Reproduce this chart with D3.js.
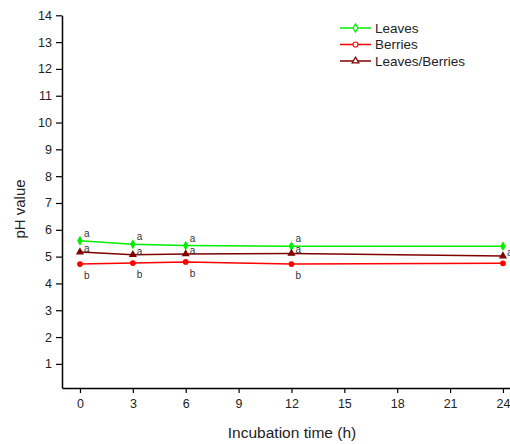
<!DOCTYPE html>
<html>
<head>
<script src="https://d3js.org/d3.v7.min.js"></script>
<style>
  body { margin: 0; background: #fff; }
  text { font-family: "Liberation Sans", Arial, sans-serif; }
</style>
</head>
<body>
<script>
// data
const hours = [0, 3, 6, 12, 24];
const leaves = [5.59, 5.46, 5.41, 5.39, 5.39];
const berries = [4.72, 4.76, 4.80, 4.72, 4.75];
const mixed = [5.17, 5.07, 5.10, 5.12, 5.02];
const leavesLetters = ["a", "a", "a", "a", null];
const berriesLetters = ["b", "b", "b", "b", null];
const mixedLetters = ["a", "a", "a", "a", "a"];
const xTicks = [0, 3, 6, 9, 12, 15, 18, 21, 24];
const yTicks = [1, 2, 3, 4, 5, 6, 7, 8, 9, 10, 11, 12, 13, 14];

const width = 510, height = 444;
const svg = d3.select("body").append("svg")
    .attr("width", width).attr("height", height);

const x = d3.scaleLinear().domain([-1.02, 24.4]).range([62, 510]);
const y = d3.scaleLinear().domain([0.1, 14]).range([388, 15.3]);

// axes
const xAxis = svg.append("g")
    .attr("transform", `translate(0,${y(0.1)})`)
    .call(d3.axisBottom(x).tickValues(xTicks).tickSize(5).tickPadding(6).tickSizeOuter(0));
const yAxis = svg.append("g")
    .attr("transform", `translate(${x(-1.02)},0)`)
    .call(d3.axisLeft(y).tickValues(yTicks).tickSize(6).tickPadding(4).tickSizeOuter(0));
[xAxis, yAxis].forEach(a => {
    a.select(".domain").attr("stroke", "#000").attr("stroke-width", 1.5);
    a.selectAll(".tick line").attr("stroke", "#000").attr("stroke-width", 1.2);
    a.selectAll(".tick text").attr("font-size", 12.5).attr("fill", "#222")
        .style("font-family", "Liberation Sans, Arial, sans-serif");
});

svg.append("text")
    .attr("x", 292).attr("y", 438)
    .attr("text-anchor", "middle").attr("font-size", 15.5).attr("fill", "#222")
    .text("Incubation time (h)");
svg.append("text")
    .attr("transform", "translate(25,209) rotate(-90)")
    .attr("text-anchor", "middle").attr("font-size", 15).attr("fill", "#222")
    .text("pH value");

const series = [
    { name: "Leaves", values: leaves, letters: leavesLetters, color: "#00ee00", symbol: d3.symbolDiamond, dy: -4 },
    { name: "Berries", values: berries, letters: berriesLetters, color: "#ff0000", symbol: d3.symbolCircle, dy: 15 },
    { name: "Leaves/Berries", values: mixed, letters: mixedLetters, color: "#800000", symbol: d3.symbolTriangle, dy: 0 }
];

const line = d3.line().x(d => x(d[0])).y(d => y(d[1]));

series.forEach(s => {
    const pts = hours.map((h, i) => [h, s.values[i], s.letters[i]]);
    svg.append("path")
        .datum(pts)
        .attr("d", line)
        .attr("fill", "none")
        .attr("stroke", s.color)
        .attr("stroke-width", 1.5);
    svg.selectAll(null)
        .data(pts)
        .enter().append("path")
        .attr("transform", d => `translate(${x(d[0])},${y(d[1])})`)
        .attr("d", d3.symbol().type(s.symbol).size(16))
        .attr("fill", s.color)
        .attr("stroke", s.color)
        .attr("stroke-width", 1.2);
    svg.selectAll(null)
        .data(pts.filter(d => d[2]))
        .enter().append("text")
        .attr("x", d => x(d[0]) + 4)
        .attr("y", d => y(d[1]) + s.dy)
        .attr("font-size", 10).attr("fill", "#333")
        .text(d => d[2]);
});

// legend
const legend = svg.append("g").attr("transform", "translate(340,28)");
series.forEach((s, i) => {
    const g = legend.append("g").attr("transform", `translate(0,${i * 16.5})`);
    g.append("line").attr("x1", 0).attr("x2", 31).attr("y1", 0).attr("y2", 0)
        .attr("stroke", s.color).attr("stroke-width", 1.5);
    g.append("path").attr("transform", "translate(15.5,0)")
        .attr("d", d3.symbol().type(s.symbol).size(20))
        .attr("fill", "#fff").attr("stroke", s.color).attr("stroke-width", 1.2);
    g.append("text").attr("x", 35).attr("y", 4.5)
        .attr("font-size", 13.5).attr("fill", "#222").text(s.name);
});
</script>
</body>
</html>
